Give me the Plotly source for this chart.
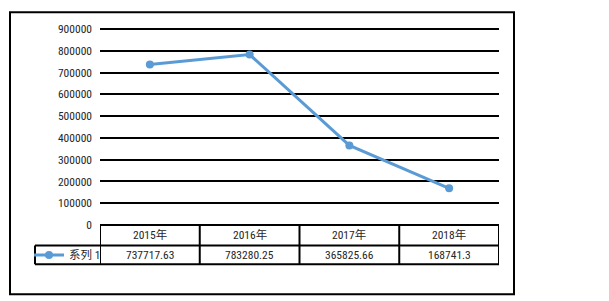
import plotly.graph_objects as go

categories = ["2015年", "2016年", "2017年", "2018年"]
values = [737717.63, 783280.25, 365825.66, 168741.3]
value_labels = ["737717.63", "783280.25", "365825.66", "168741.3"]
series_name = "系列 1"
y_ticks = [0, 100000, 200000, 300000, 400000, 500000, 600000, 700000, 800000, 900000]

FONT = "Roboto Condensed, Noto Sans CJK SC, sans-serif"
FS = 11.5
TXT = "#262626"
BLUE = "#5B9BD5"

W, H = 609, 301
L, R, T, B = 100, 499, 26.8, 225.5
YMAX = 910000
pw, ph = R - L, B - T

def py(p):
    return (B - p) / ph

def px(p):
    return (p - L) / pw

fig = go.Figure()
fig.add_trace(go.Scatter(
    x=list(range(len(categories))), y=values, mode="lines+markers", name=series_name,
    line=dict(color=BLUE, width=3), marker=dict(color=BLUE, size=8),
    showlegend=True, cliponaxis=False,
))

shapes = []
row1_top, row1_bot, row2_bot = B, 246, 265
shapes.append(dict(type="line", xref="paper", yref="paper", x0=0, x1=1, y0=py(row1_top), y1=py(row1_top)))
shapes.append(dict(type="line", xref="paper", yref="paper", x0=px(35), x1=1, y0=py(row1_bot), y1=py(row1_bot)))
shapes.append(dict(type="line", xref="paper", yref="paper", x0=px(35), x1=1, y0=py(row2_bot), y1=py(row2_bot)))
shapes.append(dict(type="line", xref="paper", yref="paper", x0=px(35), x1=px(35), y0=py(row1_bot), y1=py(row2_bot)))
for i in range(len(categories) + 1):
    shapes.append(dict(type="line", xref="x", yref="paper", x0=i - 0.5, x1=i - 0.5, y0=py(row1_top), y1=py(row2_bot)))
for s in shapes:
    s["line"] = dict(color="black", width=2)
shapes.append(dict(type="rect", xref="paper", yref="paper", x0=px(10), x1=px(514), y0=py(12), y1=py(295),
                   line=dict(color="black", width=2), layer="below"))

annotations = []
for i, (c, v) in enumerate(zip(categories, value_labels)):
    annotations.append(dict(x=i, xref="x", y=py((row1_top + row1_bot) / 2), yref="paper", text=c,
                            xanchor="center", yanchor="middle",
                            showarrow=False, font=dict(family=FONT, size=FS, color=TXT)))
    annotations.append(dict(x=i, xref="x", y=py((row1_bot + row2_bot) / 2), yref="paper", text=v,
                            xanchor="center", yanchor="middle",
                            showarrow=False, font=dict(family=FONT, size=FS, color=TXT)))

fig.update_layout(
    width=W, height=H,
    margin=dict(l=L, r=W - R, t=T, b=H - B),
    paper_bgcolor="white", plot_bgcolor="white",
    font=dict(family=FONT, size=FS, color=TXT),
    xaxis=dict(range=[-0.5, len(categories) - 0.5], showticklabels=False, showgrid=False, zeroline=False, showline=False, ticks=""),
    yaxis=dict(range=[0, YMAX], tickvals=y_ticks, ticktext=[str(t) for t in y_ticks], showgrid=True, gridcolor="black", gridwidth=2,
               zeroline=False, showline=False, ticks="", ticklabelstandoff=7,
               tickfont=dict(family=FONT, size=FS, color=TXT)),
    legend=dict(x=px(29), y=py((row1_bot + row2_bot) / 2), xanchor="left", yanchor="middle",
                bgcolor="rgba(0,0,0,0)", font=dict(family=FONT, size=FS, color=TXT),
                itemwidth=30, tracegroupgap=0),
    shapes=shapes, annotations=annotations,
)
fig.write_html("out.html")
